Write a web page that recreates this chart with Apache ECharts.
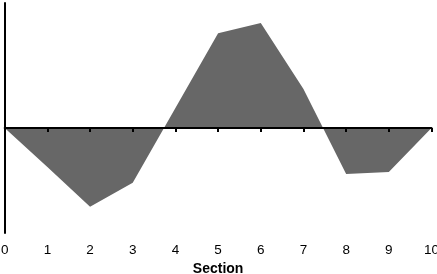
<!DOCTYPE html>
<html>
<head>
<meta charset="utf-8">
<script src="https://cdn.jsdelivr.net/npm/echarts@6/dist/echarts.min.js"></script>
<style>
html,body{margin:0;padding:0;background:#fff;}
#c{width:437px;height:274px;}
</style>
</head>
<body>
<div id="c"></div>
<script>
var sections = [0, 1, 2, 3, 4, 5, 6, 7, 8, 9, 10];
var values = [0, -1.56, -3.15, -2.19, 0.8, 3.79, 4.2, 1.56, -1.84, -1.76, 0];
var xTickLabels = ['0','1','2','3','4','5','6','7','8','9','10'];
var xAxisName = 'Section';

var chart = echarts.init(document.getElementById('c'));
chart.setOption({
  animation: false,
  backgroundColor: '#ffffff',
  grid: { left: 4.7, right: 5.5, top: 3, bottom: 41, containLabel: false, outerBoundsMode: 'none' },
  xAxis: [
    {
      type: 'value', min: 0, max: 10, interval: 1, position: 'bottom',
      axisLine: { show: true, onZero: true, lineStyle: { color: '#000', width: 2 } },
      axisTick: { show: true, length: 4, lineStyle: { color: '#000', width: 2 } },
      axisLabel: { show: false },
      splitLine: { show: false },
      z: 5
    },
    {
      type: 'value', min: 0, max: 10, interval: 1, position: 'bottom',
      axisLine: { show: false, onZero: false },
      axisTick: { show: false },
      axisLabel: {
        show: true, margin: 10, color: '#000', fontSize: 13.5,
        fontFamily: 'Liberation Sans, Arial, sans-serif',
        formatter: function (v) { return xTickLabels[Math.round(v)]; }
      },
      splitLine: { show: false },
      name: xAxisName, nameLocation: 'middle', nameGap: 28,
      nameTextStyle: { color: '#000', fontSize: 14, fontWeight: 'bold', fontFamily: 'Liberation Sans, Arial, sans-serif' }
    }
  ],
  yAxis: {
    type: 'value', min: -4.2, max: 5,
    axisLine: { show: true, onZero: false, lineStyle: { color: '#000', width: 2 } },
    axisTick: { show: false },
    axisLabel: { show: false },
    splitLine: { show: false }
  },
  series: [{
    type: 'line',
    xAxisIndex: 0,
    data: sections.map(function (s, i) { return [s, values[i]]; }),
    symbol: 'none',
    lineStyle: { width: 0 },
    areaStyle: { color: '#676767', opacity: 1, origin: 0 },
    z: 1
  }]
});
</script>
</body>
</html>
